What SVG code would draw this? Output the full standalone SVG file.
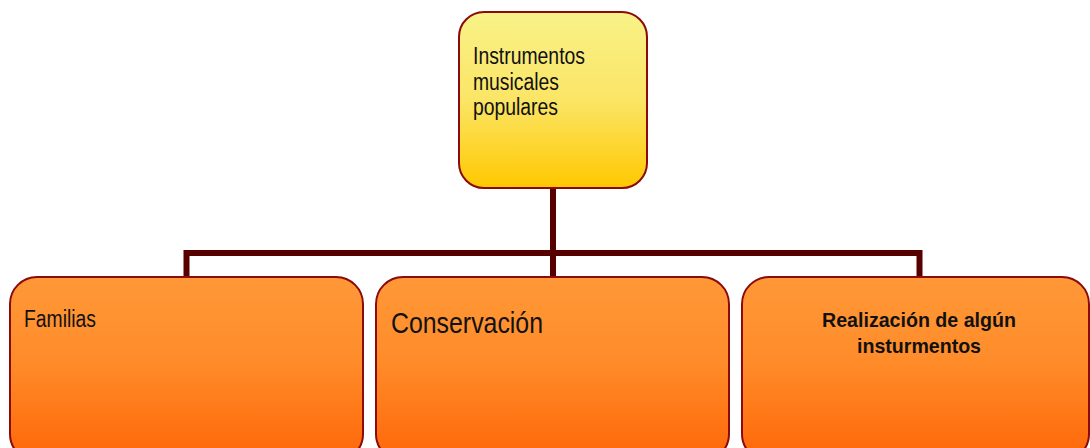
<svg xmlns="http://www.w3.org/2000/svg" width="1090" height="448" viewBox="0 0 1090 448">
<style>
.box{stroke:#8b0a0a;stroke-width:2}
.top{fill:url(#gTop)}
.bot{fill:url(#gBot)}
.conn{fill:none;stroke:#570000;stroke-width:6}
text{font-family:"Liberation Sans",Arial,sans-serif;fill:#111}
.t22{font-size:23px}
.big{font-size:30px}
.bold{font-size:21px;font-weight:bold}
</style>
<defs>
<linearGradient id="gTop" x1="0" y1="0" x2="0" y2="1">
<stop offset="0" stop-color="#f8f288"/>
<stop offset="0.5" stop-color="#fbe566"/>
<stop offset="1" stop-color="#ffc800"/>
</linearGradient>
<linearGradient id="gBot" x1="0" y1="0" x2="0" y2="1">
<stop offset="0" stop-color="#ff9838"/>
<stop offset="0.45" stop-color="#ff8c2a"/>
<stop offset="1" stop-color="#ff6608"/>
</linearGradient>
</defs>
<g id="connectors">
<path class="conn" d="M553 188 V276"/>
<path class="conn" d="M186.5 276 V253 H919.5 V276"/>
</g>
<g id="node-top">
<rect class="box top" x="459" y="12" width="188" height="176" rx="25"/>
<text class="t22" x="473" y="64" textLength="112" lengthAdjust="spacingAndGlyphs">Instrumentos</text>
<text class="t22" x="473" y="90" textLength="86" lengthAdjust="spacingAndGlyphs">musicales</text>
<text class="t22" x="473" y="115" textLength="85" lengthAdjust="spacingAndGlyphs">populares</text>
</g>
<g id="node-familias">
<rect class="box bot" x="10" y="277" width="353" height="184" rx="27"/>
<text class="t22" x="24" y="327" textLength="72" lengthAdjust="spacingAndGlyphs">Familias</text>
</g>
<g id="node-conservacion">
<rect class="box bot" x="376" y="277" width="353" height="184" rx="27"/>
<text class="big" x="391" y="333" textLength="152" lengthAdjust="spacingAndGlyphs">Conservación</text>
</g>
<g id="node-realizacion">
<rect class="box bot" x="742" y="277" width="347" height="184" rx="27"/>
<text class="bold" x="919" y="327" text-anchor="middle" textLength="194" lengthAdjust="spacingAndGlyphs">Realización de algún</text>
<text class="bold" x="919" y="353" text-anchor="middle" textLength="124" lengthAdjust="spacingAndGlyphs">insturmentos</text>
</g>
</svg>
